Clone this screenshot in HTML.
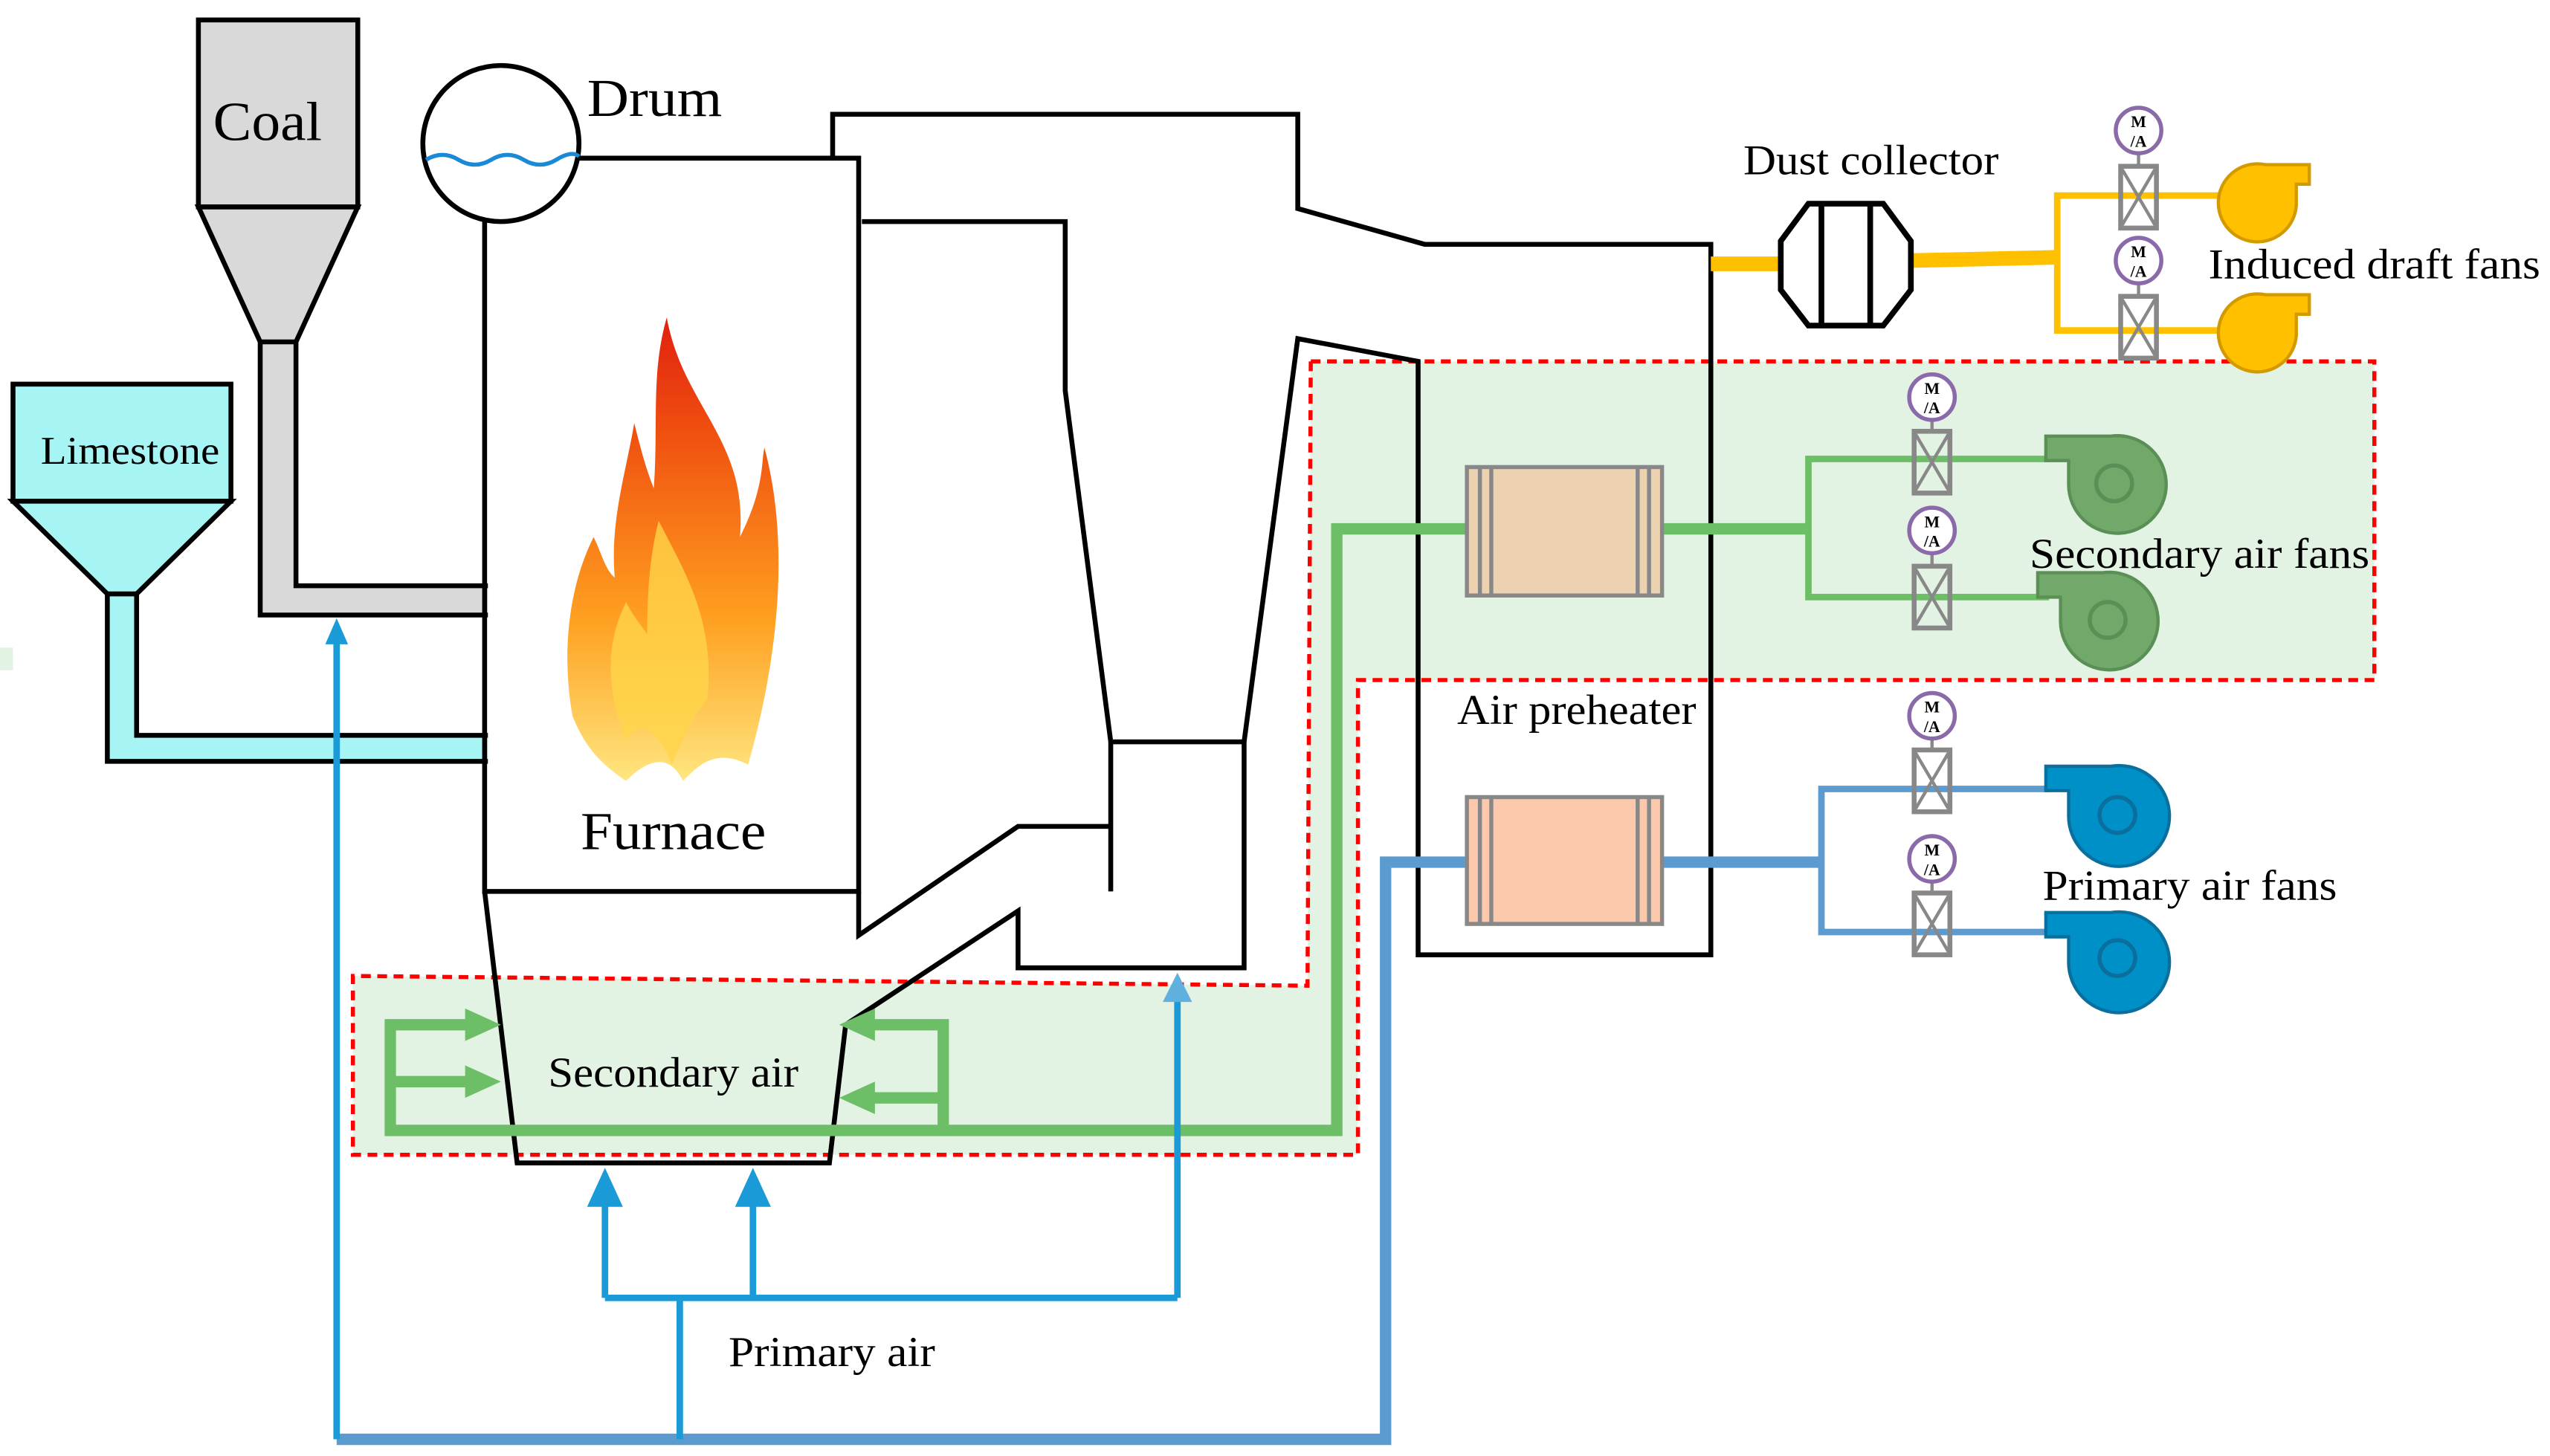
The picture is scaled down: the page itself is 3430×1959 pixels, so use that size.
<!DOCTYPE html>
<html><head><meta charset="utf-8"><style>
html,body{margin:0;padding:0;background:#fff}
svg{display:block}
text{font-family:"Liberation Serif",serif;fill:#000}
</style></head><body>
<svg width="3430" height="1959" viewBox="0 0 1568 895" xmlns="http://www.w3.org/2000/svg">
<defs>
<linearGradient id="fl" x1="0" y1="1" x2="0" y2="0">
<stop offset="0" stop-color="#ffe680"/><stop offset="0.35" stop-color="#ffa020"/><stop offset="0.75" stop-color="#f05010"/><stop offset="1" stop-color="#e02010"/></linearGradient>
<g id="valve"><rect x="-11" y="0" width="22" height="38" fill="none" stroke="#888" stroke-width="3"/><path d="M-10,2 L10,36 M10,2 L-10,36" stroke="#888" stroke-width="2"/></g>
<g id="ma"><circle r="14" fill="#fff" stroke="#8a6aa8" stroke-width="2.5"/><text x="0" y="-2" font-size="10" text-anchor="middle" font-weight="bold">M</text><text x="0" y="10" font-size="10" text-anchor="middle" font-weight="bold">/A</text></g>
</defs>

<path d="M806,222 L1460,222 L1460,418 L835,418 L835,710 L217,710 L217,600 L804,606 Z" fill="#e3f3e3"/>
<path d="M806,222 L1460,222 L1460,418 L835,418 L835,710 L217,710 L217,600 L804,606 Z" fill="none" stroke="#f00" stroke-width="2.5" stroke-dasharray="6,4"/>
<rect x="0" y="398" width="8" height="14" fill="#e3f3e3"/>

<path d="M160,210 L160,378 L300,378 L300,360 L182,360 L182,210 Z" fill="#d9d9d9"/>
<path d="M160,210 L160,378 L300,378 M182,210 L182,360 L300,360" fill="none" stroke="#000" stroke-width="3"/>
<rect x="122" y="12" width="98" height="115" fill="#d9d9d9" stroke="#000" stroke-width="3"/>
<path d="M122,127 L220,127 L182,210 L160,210 Z" fill="#d9d9d9" stroke="#000" stroke-width="3"/>
<text x="131" y="86" font-size="34" textLength="67" lengthAdjust="spacingAndGlyphs">Coal</text>

<path d="M66,365 L66,468 L300,468 L300,452 L84,452 L84,365 Z" fill="#a6f4f4"/>
<path d="M66,365 L66,468 L300,468 M84,365 L84,452 L300,452" fill="none" stroke="#000" stroke-width="3"/>
<rect x="8" y="236" width="134" height="72" fill="#a6f4f4" stroke="#000" stroke-width="3"/>
<path d="M8,308 L142,308 L84,365 L66,365 Z" fill="#a6f4f4" stroke="#000" stroke-width="3"/>
<text x="25" y="285" font-size="24" textLength="110" lengthAdjust="spacingAndGlyphs">Limestone</text>

<g fill="none" stroke="#000" stroke-width="3">
<path d="M298,136 L298,548 L528,548 L528,97 L356,97"/>
<path d="M298,548 L318,715 L510,715 L520,630"/>
<path d="M512,97 L512,70 L798,70 L798,128 L876,150 L1052,150 L1052,587 L872,587 L872,222 L798,208 L765,456"/>
<path d="M530,136 L655,136 L655,240 L683,456 L765,456 L765,595 L626,595 L626,560 L520,630"/>
<path d="M683,456 L683,548"/>
<path d="M528,548 L528,575 L626,508 L683,508"/>
</g>
<circle cx="308" cy="88" r="48" fill="#fff" stroke="#000" stroke-width="3"/>
<path d="M262,98 Q272,92 282,98 T302,98 T322,98 T342,98 T356,96" fill="none" stroke="#1a8ad7" stroke-width="2.5"/>
<text x="361" y="71" font-size="33" textLength="83" lengthAdjust="spacingAndGlyphs">Drum</text>

<path d="M410,195 C420,250 460,270 455,330 C470,300 468,285 470,275 C485,330 480,400 460,470 C440,460 430,470 420,480 C410,460 395,470 385,480 C370,470 360,460 352,440 C345,400 350,360 365,330 C370,340 372,350 378,355 C375,320 385,290 390,260 C395,280 398,290 402,300 C405,260 400,230 410,195 Z" fill="url(#fl)"/>
<path d="M405,320 C420,350 440,380 435,430 C425,440 420,455 413,470 C405,450 395,440 385,455 C375,430 370,400 385,370 C390,380 395,385 398,390 C398,360 400,340 405,320 Z" fill="#ffd54a" opacity="0.8"/>
<text x="357" y="522" font-size="33" textLength="114" lengthAdjust="spacingAndGlyphs">Furnace</text>

<g fill="none" stroke="#6dbf67" stroke-width="7">
<path d="M902,325 L822,325 L822,695 L240,695 L240,630 L290,630"/>
<path d="M240,665 L290,665"/>
<path d="M580,695 L580,630 L530,630"/>
<path d="M580,675 L530,675"/>
<path d="M1022,325 L1112,325"/>
</g>
<path d="M308,630 L286,620 L286,640 Z M308,665 L286,655 L286,675 Z M516,630 L538,620 L538,640 Z M516,675 L538,665 L538,685 Z" fill="#6dbf67"/>
<path d="M1112,325 L1112,282 L1260,282 M1112,325 L1112,367 L1260,367" fill="none" stroke="#6dbf67" stroke-width="4"/>
<text x="337" y="668" font-size="26" textLength="154" lengthAdjust="spacingAndGlyphs">Secondary air</text>

<g fill="none" stroke="#5b9bd0" stroke-width="7">
<path d="M902,530 L852,530 L852,885 L207,885"/>
<path d="M1022,530 L1120,530"/>
</g>
<path d="M1120,530 L1120,485 L1260,485 M1120,530 L1120,573 L1260,573" fill="none" stroke="#5b9bd0" stroke-width="4"/>
<g fill="none" stroke="#1a9bd7" stroke-width="4">
<path d="M207,885 L207,392"/>
<path d="M418,885 L418,798 M372,798 L724,798 M372,798 L372,735 M463,798 L463,735 M724,798 L724,612"/>
</g>
<path d="M207,380 L200,396 L214,396 Z" fill="#1a9bd7"/>
<path d="M372,718 L361,742 L383,742 Z M463,718 L452,742 L474,742 Z" fill="#1a9bd7"/>
<path d="M724,598 L715,616 L733,616 Z" fill="#5fb0df"/>
<text x="448" y="840" font-size="26" textLength="127" lengthAdjust="spacingAndGlyphs">Primary air</text>

<g stroke="#888" stroke-width="2.5">
<rect x="902" y="287" width="120" height="79" fill="#edd2b2"/>
<rect x="902" y="490" width="120" height="78" fill="#fdc9ad"/>
<path d="M910,287 V366 M917,287 V366 M1007,287 V366 M1014,287 V366 M910,490 V568 M917,490 V568 M1007,490 V568 M1014,490 V568" fill="none"/>
</g>
<text x="896" y="445" font-size="26" textLength="147" lengthAdjust="spacingAndGlyphs">Air preheater</text>

<path d="M1052,162 L1095,162 M1175,160 L1265,158" stroke="#ffc000" stroke-width="9" fill="none"/>
<path d="M1265,158 L1265,120 L1370,120 M1265,158 L1265,203 L1370,203" stroke="#ffc000" stroke-width="4" fill="none"/>
<path d="M1112,125 L1158,125 L1175,148 L1175,178 L1158,200 L1112,200 L1095,178 L1095,148 Z" fill="#fff" stroke="#000" stroke-width="3.5"/>
<path d="M1120,125 V200 M1150,125 V200" stroke="#000" stroke-width="3.5"/>
<text x="1072" y="107" font-size="26" textLength="157" lengthAdjust="spacingAndGlyphs">Dust collector</text>
<text x="1358" y="171" font-size="26" textLength="204" lengthAdjust="spacingAndGlyphs">Induced draft fans</text>

<path d="M1420,101 L1393,101 A24,24 0 1 0 1412,126 L1412,113 L1420,113 Z" fill="#ffc000" stroke="#d39a00" stroke-width="2"/>
<path d="M1420,181 L1393,181 A24,24 0 1 0 1412,206 L1412,193 L1420,193 Z" fill="#ffc000" stroke="#d39a00" stroke-width="2"/>

<g fill="#72a86a" stroke="#5a8f55" stroke-width="2">
<path d="M1258,268 L1298,268 A30,30 0 1 1 1272,298 L1272,283 L1258,283 Z"/>
<path d="M1253,352 L1293,352 A30,30 0 1 1 1267,382 L1267,367 L1253,367 Z"/>
</g>
<circle cx="1300" cy="297" r="11" fill="none" stroke="#5a8f55" stroke-width="2.5"/>
<circle cx="1296" cy="381" r="11" fill="none" stroke="#5a8f55" stroke-width="2.5"/>
<text x="1248" y="349" font-size="26" textLength="209" lengthAdjust="spacingAndGlyphs">Secondary air fans</text>

<g fill="#0090c8" stroke="#0b6f9e" stroke-width="2">
<path d="M1258,471 L1298,471 A31,31 0 1 1 1272,501 L1272,486 L1258,486 Z"/>
<path d="M1258,561 L1298,561 A31,31 0 1 1 1272,591 L1272,576 L1258,576 Z"/>
</g>
<circle cx="1302" cy="501" r="11" fill="none" stroke="#0b6f9e" stroke-width="2.5"/>
<circle cx="1302" cy="589" r="11" fill="none" stroke="#0b6f9e" stroke-width="2.5"/>
<text x="1256" y="553" font-size="26" textLength="181" lengthAdjust="spacingAndGlyphs">Primary air fans</text>

<g>
<path d="M1315,94 V102 M1315,174 V182 M1188,258 V265 M1188,340 V348 M1188,454 V461 M1188,542 V549" stroke="#888" stroke-width="2"/>
<use href="#valve" x="1315" y="102"/><use href="#ma" x="1315" y="80"/>
<use href="#valve" x="1315" y="182"/><use href="#ma" x="1315" y="160"/>
<use href="#valve" x="1188" y="265"/><use href="#ma" x="1188" y="244"/>
<use href="#valve" x="1188" y="348"/><use href="#ma" x="1188" y="326"/>
<use href="#valve" x="1188" y="461"/><use href="#ma" x="1188" y="440"/>
<use href="#valve" x="1188" y="549"/><use href="#ma" x="1188" y="528"/>
</g>
</svg>
</body></html>
